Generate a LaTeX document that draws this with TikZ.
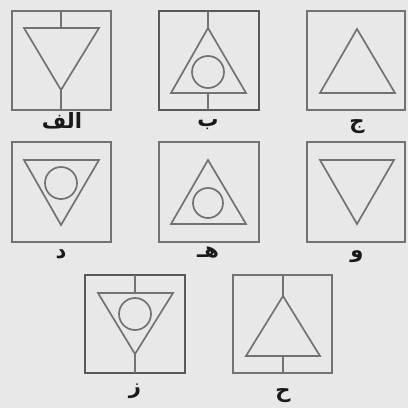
\documentclass[tikz,border=0pt]{standalone}
\usepackage{fontspec}
\usepackage{xcolor}
\usetikzlibrary{positioning}
\TeXXeTstate=1
\newfontfamily\arabicfont[Script=Arabic]{DejaVu Sans}
\definecolor{bggray}{HTML}{E8E8E8}
\definecolor{linegray}{HTML}{727272}
\tikzstyle{frame} = [draw=linegray, line width=1.5pt]
\tikzstyle{symb} = [draw=linegray, line width=1.2pt, line join=miter]
\tikzstyle{lbl} = [font=\arabicfont\bfseries\fontsize{15}{18}\selectfont, text=black!90, inner sep=0pt, anchor=base]

\begin{document}
\begin{tikzpicture}[x=0.25mm, y=-0.25mm]
    % Background
    \fill[bggray] (0,0) rectangle (408,408);
    \useasboundingbox (0,0) rectangle (408,408);
    % Row 1
    \draw[frame] (12,11) rectangle (111,110);
    \draw[symb] (61,11) -- (61,28);
    \draw[symb] (24,28) -- (99,28) -- (61,90) -- cycle;
    \draw[symb] (61,90) -- (61,110);
    \node[lbl] (alef) at (62,128) {\beginR الف\endR};

    \draw[frame, draw=black!65] (159,11) rectangle (259,110);
    \draw[symb] (208,11) -- (208,28);
    \draw[symb] (208,28) -- (246,93) -- (171,93) -- cycle;
    \draw[symb] (208,72) circle (16);
    \draw[symb] (208,93) -- (208,110);
    \node[lbl] (be) at (208,126) {\beginR ب\endR};

    \draw[frame] (307,11) rectangle (405,110);
    \draw[symb] (357,29) -- (395,93) -- (320,93) -- cycle;
    \node[lbl] (jim) at (357,128) {\beginR ج\endR};
    % Row 2
    \draw[frame] (12,142) rectangle (111,242);
    \draw[symb] (24,160) -- (99,160) -- (61,225) -- cycle;
    \draw[symb] (61,183) circle (16);
    \node[lbl] (dal) at (61,258) {\beginR د\endR};

    \draw[frame] (159,142) rectangle (259,242);
    \draw[symb] (208,160) -- (246,224) -- (171,224) -- cycle;
    \draw[symb] (208,203) circle (15);
    \node[lbl] (he) at (208,257) {\beginR هـ\endR};

    \draw[frame] (307,142) rectangle (405,242);
    \draw[symb] (320,160) -- (394,160) -- (357,224) -- cycle;
    \node[lbl] (vav) at (357,257) {\beginR و\endR};
    % Row 3
    \draw[frame, draw=black!65] (85,275) rectangle (185,373);
    \draw[symb] (135,275) -- (135,293);
    \draw[symb] (98,293) -- (173,293) -- (135,354) -- cycle;
    \draw[symb] (135,314) circle (16);
    \draw[symb] (135,354) -- (135,373);
    \node[lbl] (ze) at (135,393) {\beginR ز\endR};

    \draw[frame] (233,275) rectangle (332,373);
    \draw[symb] (283,275) -- (283,296);
    \draw[symb] (283,296) -- (320,356) -- (246,356) -- cycle;
    \draw[symb] (283,356) -- (283,373);
    \node[lbl] (hhe) at (283,397) {\beginR ح\endR};
\end{tikzpicture}
\end{document}
